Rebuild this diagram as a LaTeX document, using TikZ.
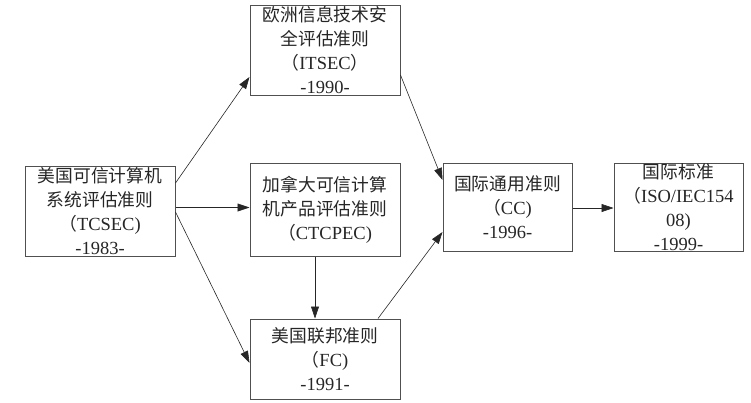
\documentclass[tikz,border=0pt]{standalone}
\usepackage{fontspec}
\setmainfont{Liberation Serif}
\newfontfamily\cjk[Scale=0.96]{Noto Sans CJK SC}
\usetikzlibrary{arrows.meta}
\definecolor{boxline}{HTML}{505050}
\definecolor{txt}{HTML}{262626}
\tikzset{
  stdbox/.style={draw=boxline, line width=1pt, fill=white, align=center,
    font=\fontsize{18.5}{24}\selectfont, text=txt, inner sep=0pt,
    minimum width=150pt, minimum height=90pt},
  flow/.style={draw=black!85, line width=0.6pt, -{Triangle[length=12pt,width=8pt]}}
}
\begin{document}
\begin{tikzpicture}[x=1pt,y=-1pt]
\useasboundingbox (0,0) rectangle (751,402);
\node[stdbox] (tcsec) at (100,211) {{\cjk 美国可信计算机}\\{\cjk 系统评估准则}\\{\cjk （}TCSEC)\\-1983-};
\node[stdbox] (itsec) at (325,50) {{\cjk 欧洲信息技术安}\\{\cjk 全评估准则}\\{\cjk （}ITSEC{\cjk ）}\\-1990-};
\node[stdbox, minimum height=93pt] (ctcpec) at (325,209.5) {{\cjk 加拿大可信计算}\\{\cjk 机产品评估准则}\\{\cjk （}CTCPEC)};
\node[stdbox, minimum height=80pt] (fc) at (325,359) {{\cjk 美国联邦准则}\\{\cjk （}FC)\\-1991-};
\node[stdbox, minimum width=129pt, minimum height=88pt] (cc) at (507.5,207) {{\cjk 国际通用准则}\\{\cjk （}CC)\\-1996-};
\node[stdbox, minimum width=129pt, minimum height=88pt] (iso) at (678.5,207) {{\cjk 国际标准}\\{\cjk （}ISO/IEC154\\08)\\-1999-};
\draw[flow] ([yshift=28pt]tcsec.east) -- ([yshift=-27pt]itsec.west);
\draw[flow] ([yshift=3.5pt]tcsec.east) -- ([yshift=2pt]ctcpec.west);
\draw[flow] ([yshift=-1pt]tcsec.east) -- ([yshift=-4pt]fc.west);
\draw[flow] ([yshift=-25pt]itsec.east) -- ([yshift=27pt]cc.west);
\draw[flow] ([xshift=-10pt]ctcpec.south) -- ([xshift=-10pt]fc.north);
\draw[flow] ([xshift=53pt]fc.north) -- ([yshift=-25pt]cc.west);
\draw[flow] ([yshift=-1pt]cc.east) -- ([yshift=-1pt]iso.west);
\end{tikzpicture}
\end{document}
